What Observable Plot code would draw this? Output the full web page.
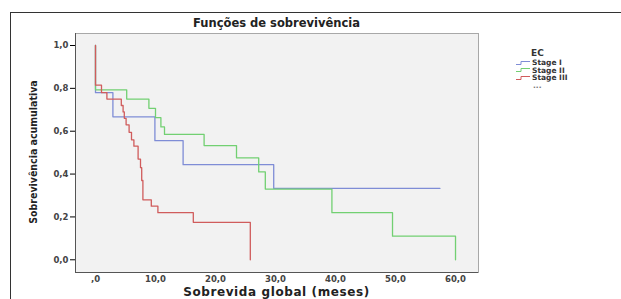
<!DOCTYPE html>
<html><head><meta charset="utf-8">
<script src="https://cdn.jsdelivr.net/npm/d3@7"></script>
<script src="https://cdn.jsdelivr.net/npm/@observablehq/plot@0.6"></script>
<style>
html,body{margin:0;padding:0;background:#fff;}
#wrap{position:relative;width:621px;height:299px;overflow:hidden;font-family:"DejaVu Sans",sans-serif;}
#border{position:absolute;left:10px;top:12px;width:800px;height:400px;border-left:1.5px solid #333;border-top:1.5px solid #333;}
#chart{position:absolute;left:0;top:0;}
.t{position:absolute;white-space:nowrap;color:#222;font-weight:bold;line-height:1;}
#title{left:0;width:553px;text-align:center;top:18px;font-size:11.5px;}
#xlab{left:0;width:553px;text-align:center;top:286px;font-size:12px;letter-spacing:0.6px;}
#ylab{left:33px;top:152px;transform:translate(-50%,-50%) rotate(-90deg);font-family:"Liberation Sans Narrow","DejaVu Sans Condensed",sans-serif;font-size:10.5px;}
#legend{position:absolute;left:516px;top:48px;font-size:7.5px;font-weight:bold;color:#333;}
#legend .h{font-size:9px;margin-left:15px;margin-bottom:1px;}
#legend .r{display:flex;align-items:center;height:7.5px;}
#legend svg{margin-right:2px;}
</style></head>
<body>
<div id="wrap">
<div id="border"></div>
<div id="chart"></div>
<div class="t" id="title">Funções de sobrevivência</div>
<div class="t" id="xlab">Sobrevida global (meses)</div>
<div class="t" id="ylab">Sobrevivência acumulativa</div>
<div id="legend"></div>
</div>
<script>
// ---- data ----
const seriesNames = ["Stage I", "Stage II", "Stage III"];
const seriesColors = ["#7f8dd6", "#72d072", "#d05c5c"];
const censorColors = ["#6f7fd0", "#45b545", "#dcc27e"];

const stageITime = [0, 0, 2.9, 9.9, 14.6, 29.7, 57.4];
const stageISurv = [1.0, 0.78, 0.667, 0.556, 0.444, 0.333, 0.333];
const stageICensorTime = [39.8, 41.2, 57.4];
const stageICensorSurv = [0.333, 0.333, 0.333];

const stageIITime = [0, 0, 5.2, 8.9, 10.0, 10.9, 11.5, 18.1, 23.5, 27.2, 28.3, 39.4, 49.5, 60.0];
const stageIISurv = [1.0, 0.793, 0.75, 0.707, 0.663, 0.62, 0.585, 0.533, 0.476, 0.41, 0.33, 0.22, 0.11, 0];
const stageIICensorTime = [12.1, 14.9, 22.2, 27.2, 28.2, 36.4];
const stageIICensorSurv = [0.585, 0.585, 0.533, 0.41, 0.41, 0.33];

const stageIIITime = [0, 0, 1.0, 1.9, 4.3, 4.6, 4.8, 5.1, 5.6, 6.0, 6.4, 7.1, 7.5, 7.7, 7.9, 9.3, 10.4, 16.3, 25.8];
const stageIIISurv = [1.0, 0.815, 0.78, 0.75, 0.72, 0.69, 0.66, 0.63, 0.595, 0.56, 0.53, 0.47, 0.43, 0.37, 0.28, 0.25, 0.22, 0.175, 0];
const stageIIICensorTime = [14.05, 19.7, 21.1, 23.8];
const stageIIICensorSurv = [0.22, 0.175, 0.175, 0.175];

const xTicks = [0, 10, 20, 30, 40, 50, 60];
const xTickLabels = [",0", "10,0", "20,0", "30,0", "40,0", "50,0", "60,0"];
const yTicks = [0, 0.2, 0.4, 0.6, 0.8, 1.0];
const yTickLabels = ["0,0", "0,2", "0,4", "0,6", "0,8", "1,0"];

// ---- build tables ----
const times = [stageITime, stageIITime, stageIIITime];
const survs = [stageISurv, stageIISurv, stageIIISurv];
const cTimes = [stageICensorTime, stageIICensorTime, stageIIICensorTime];
const cSurvs = [stageICensorSurv, stageIICensorSurv, stageIIICensorSurv];

const marks = [
  Plot.frame({fill: "#f2f2f2", stroke: "#a8a8a8"}),
  Plot.axisX({ticks: xTicks, tickFormat: d => xTickLabels[xTicks.indexOf(d)], tickSize: 0, tickPadding: 3, fontSize: 8.5, fontWeight: "bold", fill: "#444", label: null}),
  Plot.axisY({ticks: yTicks, tickFormat: d => yTickLabels[yTicks.findIndex(v => Math.abs(v - d) < 1e-9)], tickSize: 5, tickPadding: 2, fontSize: 8.5, fontWeight: "bold", fill: "#444", label: null}),
  Plot.ruleX([-3.333], {stroke: "#555"}),
  Plot.ruleY([-0.0593], {stroke: "#555"})
];
for (let s = 0; s < 3; s++) {
  const pts = times[s].map((t, i) => ({t, v: survs[s][i]}));
  marks.push(Plot.line(pts, {x: "t", y: "v", curve: "step-after", stroke: seriesColors[s], strokeWidth: 1.3}));
}
for (let s = 0; s < 3; s++) {
  const cs = cTimes[s].map((t, i) => ({t, v: cSurvs[s][i]}));
  marks.push(Plot.dot(cs, {x: "t", y: "v", symbol: "plus", r: 3, fill: censorColors[s], stroke: "none"}));
}

const chart = Plot.plot({
  width: 621, height: 299,
  marginLeft: 75, marginRight: 143, marginTop: 33, marginBottom: 27,
  style: {background: "transparent", fontFamily: "DejaVu Sans, sans-serif"},
  x: {domain: [-3.333, 63.83]},
  y: {domain: [-0.0593, 1.056]},
  marks
});
document.getElementById("chart").appendChild(chart);

// legend
const lg = document.getElementById("legend");
let html = '<div class="h">EC</div>';
seriesNames.forEach((n, i) => {
  html += `<div class="r"><svg width="14" height="6"><path d="M0,4.5H5V1.5H14" fill="none" stroke="${seriesColors[i]}" stroke-width="1"/></svg>${n}</div>`;
});
html += '<div class="r" style="margin-left:17px;color:#777;font-weight:bold">...</div>';
lg.innerHTML = html;
</script>
</body></html>
